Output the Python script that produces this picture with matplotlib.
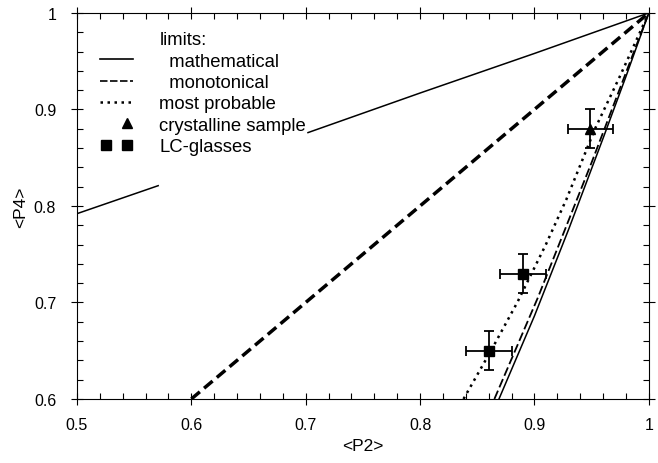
import numpy as np
import matplotlib.pyplot as plt
from matplotlib.lines import Line2D
from matplotlib.legend_handler import HandlerLine2D, HandlerTuple

plt.rcParams['font.family'] = ['Liberation Sans', 'DejaVu Sans']

# limits
upper_math_x = [0.5, 0.571, np.nan, 0.702, 0.80, 0.90, 1.0]
upper_math_y = [0.792, 0.821, np.nan, 0.876, 0.917, 0.958, 1.0]
lower_math_x = [0.869, 0.90, 0.93, 0.96, 0.98, 1.0]
lower_math_y = [0.60, 0.686, 0.776, 0.870, 0.934, 1.0]
upper_mono_x = [0.6, 1.0]
upper_mono_y = [0.6, 1.0]
lower_mono_x = [0.865, 0.903, 0.95, 1.0]
lower_mono_y = [0.60, 0.705, 0.845, 1.0]
probable_x = [0.838, 0.862, 0.885, 0.91, 0.928, 0.953, 0.975, 1.0]
probable_y = [0.60, 0.65, 0.70, 0.76, 0.807, 0.88, 0.935, 1.0]

# measurements
cryst_p2 = [0.949]
cryst_p4 = [0.880]
glass_p2 = [0.860, 0.890]
glass_p4 = [0.650, 0.730]
err_p2 = 0.02
err_p4 = 0.02

fig = plt.figure(figsize=(6.58, 4.64), dpi=100)
ax = fig.add_axes([0.117, 0.138, 0.869, 0.832])

ax.plot(upper_math_x, upper_math_y, color='k', lw=1.1)
ax.plot(lower_math_x, lower_math_y, color='k', lw=1.1)
ax.plot(upper_mono_x, upper_mono_y, color='k', lw=2.5, dashes=(3.2, 1.6))
ax.plot(lower_mono_x, lower_mono_y, color='k', lw=1.3, dashes=(5, 2))
ax.plot(probable_x, probable_y, color='k', lw=1.8, linestyle=(0, (1, 1.8)))

ax.errorbar(cryst_p2, cryst_p4, xerr=err_p2, yerr=err_p4, fmt='^', color='k',
            ms=7, elinewidth=1.3, capsize=3.6, capthick=1.3)
ax.errorbar(glass_p2, glass_p4, xerr=err_p2, yerr=err_p4, fmt='s', color='k',
            ms=6.5, elinewidth=1.3, capsize=3.6, capthick=1.3)

ax.set_xlim(0.5, 1.0)
ax.set_ylim(0.6, 1.0)
ax.set_xticks(np.arange(0.5, 1.01, 0.1))
ax.set_yticks(np.arange(0.6, 1.01, 0.1))
ax.set_xticklabels(['0.5', '0.6', '0.7', '0.8', '0.9', '1'])
ax.set_yticklabels(['0.6', '0.7', '0.8', '0.9', '1'])
ax.set_xticks(np.arange(0.5, 1.0, 0.02), minor=True)
ax.set_yticks(np.arange(0.6, 1.0, 0.02), minor=True)
ax.tick_params(which='major', direction='inout', length=8, width=0.8,
               top=True, right=True, labelsize=11.5)
ax.tick_params(axis='x', which='major', pad=9)
ax.tick_params(axis='y', which='major', pad=11)
ax.tick_params(which='minor', direction='in', length=4, width=0.8,
               top=True, right=True)
for s in ax.spines.values():
    s.set_linewidth(0.8)

ax.set_xlabel('<P2>', fontsize=12.5, labelpad=4)
ax.set_ylabel('<P4>', fontsize=12.5, labelpad=4)

# legend
h_title = Line2D([], [], ls='none')
h_math = Line2D([], [], color='k', lw=1.2)
h_mono = Line2D([], [], color='k', lw=1.2, dashes=(4.5, 1.5))
h_prob = Line2D([], [], color='k', lw=1.8, linestyle=(0, (1, 1.8)))
h_blank = Line2D([], [], ls='none')
h_tri = Line2D([], [], ls='none', marker='^', ms=7, color='k')
h_cryst = (h_blank, h_blank, h_tri)
h_glass = Line2D([], [], ls='none', marker='s', ms=6.5, color='k')

ax.legend([h_title, h_math, h_mono, h_prob, h_cryst, h_glass],
          ['limits:', '  mathematical', '  monotonical', 'most probable',
           'crystalline sample', 'LC-glasses'],
          handler_map={h_cryst: HandlerTuple(ndivide=None, pad=0),
                       h_glass: HandlerLine2D(numpoints=2)},
          numpoints=1, loc='upper left', bbox_to_anchor=(0.028, 0.972),
          borderaxespad=0, borderpad=0.4, frameon=False, fontsize=13.3,
          handlelength=1.75, handletextpad=1.45, labelspacing=0.24)

plt.savefig('out.png', dpi=100)
